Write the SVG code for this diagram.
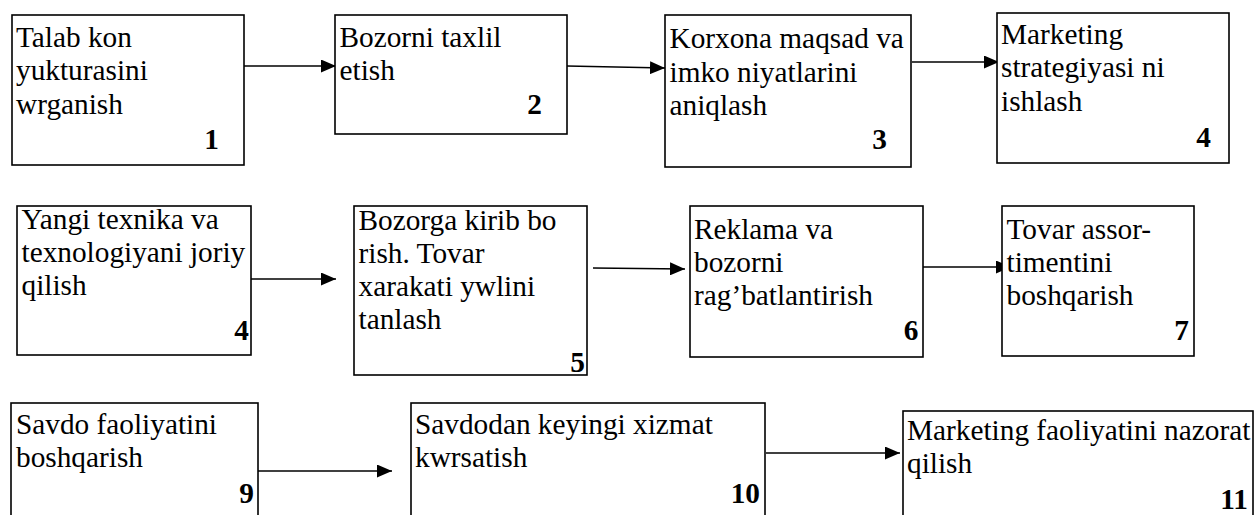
<svg xmlns="http://www.w3.org/2000/svg" width="1255" height="515" viewBox="0 0 1255 515">
<style>
.box{fill:#fff;stroke:#000;stroke-width:1.6}
.t{font-family:"Liberation Serif","Times New Roman",serif;font-size:29.3px;fill:#000}
.n{font-family:"Liberation Serif","Times New Roman",serif;font-size:29.3px;font-weight:bold;fill:#000;text-anchor:end}
.c{stroke:#000;stroke-width:1.6;fill:none;marker-end:url(#ah)}
</style>
<defs>
<marker id="ah" markerUnits="userSpaceOnUse" markerWidth="15" markerHeight="13" refX="15" refY="6.5" orient="auto">
<path d="M0,0 L15,6.5 L0,13 Z" fill="#000"/>
</marker>
</defs>
<rect width="1255" height="515" fill="#fff"/>
<g id="connectors">
<line class="c" x1="244" y1="66" x2="336" y2="66"/>
<line class="c" x1="567" y1="66" x2="665" y2="68"/>
<line class="c" x1="912" y1="62" x2="999" y2="62"/>
<line class="c" x1="251" y1="279" x2="336" y2="279"/>
<line class="c" x1="593" y1="268" x2="685" y2="269"/>
<line class="c" x1="922" y1="267" x2="1011" y2="267"/>
<line class="c" x1="258" y1="471" x2="392" y2="471"/>
<line class="c" x1="766" y1="453" x2="900" y2="453"/>
</g>
<g id="node1">
<rect class="box" x="12" y="15" width="232" height="150"/>
<text class="t" x="16" y="47"><tspan x="16">Talab kon</tspan><tspan x="16" dy="33.3">yukturasini</tspan><tspan x="16" dy="33.3">wrganish</tspan></text>
<text class="n" x="219" y="149">1</text>
</g>
<g id="node2">
<rect class="box" x="335" y="15" width="232" height="119"/>
<text class="t" x="339.5" y="47"><tspan x="339.5">Bozorni taxlil</tspan><tspan x="339.5" dy="33.3">etish</tspan></text>
<text class="n" x="542" y="114">2</text>
</g>
<g id="node3">
<rect class="box" x="665" y="15" width="246" height="152"/>
<text class="t" x="669.5" y="48.3"><tspan x="669.5">Korxona maqsad va</tspan><tspan x="669.5" dy="33.3">imko niyatlarini</tspan><tspan x="669.5" dy="33.3">aniqlash</tspan></text>
<text class="n" x="887" y="149">3</text>
</g>
<g id="node4">
<rect class="box" x="997" y="13" width="232" height="150"/>
<text class="t" x="1001" y="44"><tspan x="1001">Marketing</tspan><tspan x="1001" dy="33.3">strategiyasi ni</tspan><tspan x="1001" dy="33.3">ishlash</tspan></text>
<text class="n" x="1211" y="146.5">4</text>
</g>
<g id="node4b">
<rect class="box" x="17" y="206" width="234" height="149"/>
<text class="t" x="21.5" y="228.5"><tspan x="21.5">Yangi texnika va</tspan><tspan x="21.5" dy="33.3">texnologiyani joriy</tspan><tspan x="21.5" dy="33.3">qilish</tspan></text>
<text class="n" x="249" y="340">4</text>
</g>
<g id="node5">
<rect class="box" x="354" y="206" width="233" height="169"/>
<text class="t" x="358.5" y="229.5"><tspan x="358.5">Bozorga kirib bo</tspan><tspan x="358.5" dy="33.3">rish. Tovar</tspan><tspan x="358.5" dy="33.3">xarakati ywlini</tspan><tspan x="358.5" dy="33.3">tanlash</tspan></text>
<text class="n" x="585" y="372">5</text>
</g>
<g id="node6">
<rect class="box" x="690" y="206" width="233" height="151"/>
<text class="t" x="694" y="238.5"><tspan x="694">Reklama va</tspan><tspan x="694" dy="33.3">bozorni</tspan><tspan x="694" dy="33.3">rag’batlantirish</tspan></text>
<text class="n" x="918.5" y="339.5">6</text>
</g>
<g id="node7">
<rect class="box" x="1002" y="206" width="192" height="150"/>
<text class="t" x="1006.5" y="238.5"><tspan x="1006.5">Tovar assor-</tspan><tspan x="1006.5" dy="33.3">timentini</tspan><tspan x="1006.5" dy="33.3">boshqarish</tspan></text>
<text class="n" x="1189" y="339.5">7</text>
</g>
<g id="node9">
<rect class="box" x="11" y="403" width="247" height="130"/>
<text class="t" x="16" y="433.5"><tspan x="16">Savdo faoliyatini</tspan><tspan x="16" dy="33.3">boshqarish</tspan></text>
<text class="n" x="254" y="502.5">9</text>
</g>
<g id="node10">
<rect class="box" x="411" y="403" width="354" height="130"/>
<text class="t" x="415" y="433.5"><tspan x="415">Savdodan keyingi xizmat</tspan><tspan x="415" dy="33.3">kwrsatish</tspan></text>
<text class="n" x="760" y="502.5">10</text>
</g>
<g id="node11">
<rect class="box" x="903" y="411" width="350" height="130"/>
<text class="t" x="907" y="440"><tspan x="907">Marketing faoliyatini nazorat</tspan><tspan x="907" dy="33.3">qilish</tspan></text>
<text class="n" x="1248" y="508.5">11</text>
</g>
</svg>
